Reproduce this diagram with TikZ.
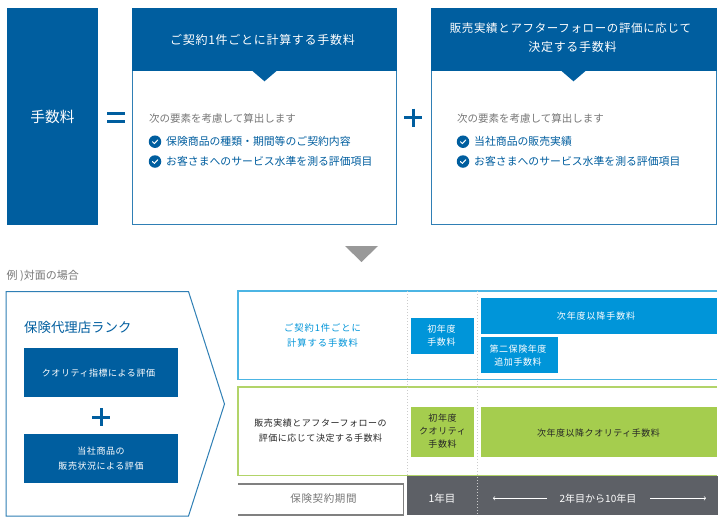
\documentclass[tikz,border=0pt]{standalone}
\usepackage{fontspec}
\setmainfont{Noto Sans CJK JP}
\newfontfamily\jpw[LetterSpace=6]{Noto Sans CJK JP}
\newfontfamily\jpx[LetterSpace=10]{Noto Sans CJK JP}
\definecolor{dblue}{HTML}{005E9F}
\definecolor{lblue}{HTML}{0095D9}
\definecolor{lgreen}{HTML}{A5CD4E}
\definecolor{slate}{HTML}{5D6066}
\definecolor{graytxt}{HTML}{777777}
\definecolor{edgeblue}{HTML}{2F7FB5}
\usetikzlibrary{calc}
\tikzset{
  solid box/.style={fill=#1,draw=none,inner sep=0pt,outer sep=0pt,align=center},
  frame box/.style={draw=#1,fill=white,line width=1pt,inner sep=0pt,outer sep=0pt},
  head txt/.style={text=white,font=\jpw\fontsize{12}{18.5}\selectfont},
  small white/.style={text=white,font=\jpw\fontsize{9}{15}\selectfont},
  tiny white/.style={text=white,font=\jpw\fontsize{9}{13}\selectfont},
  intro/.style={anchor=west,inner sep=0pt,text=graytxt,font=\fontsize{10.5}{13}\selectfont},
  item/.style={anchor=west,inner sep=0pt,text=dblue,font=\fontsize{10.85}{13}\selectfont},
  tick/.style={circle,fill=dblue,minimum size=12.5pt,inner sep=0pt},
  tickmark/.style={draw=white,line width=1pt,line cap=round,line join=round},
  opsym/.style={draw=dblue,line width=3pt},
}
\newcommand{\checkat}[3]{%
  \node[tick] (#1) at (#2,#3) {};
  \draw[tickmark] ($(#1)+(-2.6,0)$) -- ($(#1)+(-0.6,1.9)$) -- ($(#1)+(2.8,-1.8)$);
}
\begin{document}
\begin{tikzpicture}[x=1pt,y=-1pt]
\useasboundingbox (0,0) rectangle (727,525);
\fill[white] (0,0) rectangle (727,525);
% top row
\node[solid box=dblue,minimum width=91pt,minimum height=217pt,text=white,font=\fontsize{14.7}{18}\selectfont] (fee) at (52.5,116.5) {手数料};
\draw[opsym] (107,113.5) -- (125,113.5);
\draw[opsym] (107,121.2) -- (125,121.2);
% box 1
\node[frame box=edgeblue,minimum width=263.5pt,minimum height=216pt] (b1) at (264.3,116) {};
\node[solid box=dblue,minimum width=264.5pt,minimum height=63pt] (h1) at (264.3,39.5) {};
\fill[dblue] (252.5,71) -- (264.5,81.3) -- (276.5,71) -- cycle;
\node[head txt] (h1t) at (262.5,40) {ご契約1件ごとに計算する手数料};
\node[intro] (i1) at (149,118.5) {次の要素を考慮して算出します};
\checkat{c1a}{155}{141.7}
\checkat{c1b}{155}{161.5}
\node[item] (t1a) at (166,141.7) {保険商品の種類・期間等のご契約内容};
\node[item] (t1b) at (166,161) {お客さまへのサービス水準を測る評価項目};
% plus
\draw[opsym] (404,117.5) -- (422,117.5);
\draw[opsym] (413,108.5) -- (413,126.5);
% box 2
\node[frame box=edgeblue,minimum width=285.5pt,minimum height=216pt] (b2) at (574,116) {};
\node[solid box=dblue,minimum width=286.5pt,minimum height=63pt] (h2) at (574,39.5) {};
\fill[dblue] (561.5,71) -- (573.5,81.3) -- (585.5,71) -- cycle;
\node[head txt,align=center] (h2t) at (570.5,37.5) {{\fontsize{11.45}{18.5}\selectfont 販売実績とアフターフォローの評価に応じて\hspace{13pt}}\\\hspace{4pt}決定する手数料};
\node[intro] (i2) at (457,118.5) {次の要素を考慮して算出します};
\checkat{c2a}{463}{141.7}
\checkat{c2b}{463}{161.5}
\node[item] (t2a) at (474,141.7) {当社商品の販売実績};
\node[item] (t2b) at (474,161) {お客さまへのサービス水準を測る評価項目};
% down triangle
\fill[graytxt!75] (345,246) -- (378,246) -- (361.5,262) -- cycle;
% example label
\node[anchor=west,inner sep=0pt,text=graytxt,font=\fontsize{11}{13}\selectfont] (ex) at (6.5,275.5) {例 )対面の場合};
% pentagon
\draw[edgeblue,line width=1pt,fill=white] (6,291.5) -- (188.5,291.5) -- (224.5,404) -- (188.5,516) -- (6,516) -- cycle;
\node[anchor=west,inner sep=0pt,text=dblue,font=\fontsize{13.4}{16}\selectfont] (rank) at (24,327) {保険代理店ランク};
\node[solid box=dblue,minimum width=154pt,minimum height=49pt] (q) at (101,372.5) {};
\node[small white] (qt) at (98.5,373) {クオリティ指標による評価};
\draw[opsym] (92,417) -- (110,417);
\draw[opsym] (101,408) -- (101,426);
\node[solid box=dblue,minimum width=154pt,minimum height=48.5pt,small white] (s) at (101,458.5) {当社商品の\\販売状況による評価};
% right rows
\draw[lblue!70,line width=1.3pt] (717,291) -- (238,291) -- (238,379.3) -- (717,379.3);
\draw[lgreen!85!white,line width=1.3pt] (717,387) -- (238,387) -- (238,475.5) -- (717,475.5);
% bottom row
\fill[slate] (407,476) rectangle (717.5,515);
\draw[gray,line width=1.3pt] (238,484) -- (403.5,484) -- (403.5,515) -- (238,515);
\node[text=graytxt,font=\jpw\fontsize{10.5}{13}\selectfont] (p) at (323.5,498.5) {保険契約期間};
\node[text=white,font=\fontsize{10.5}{13}\selectfont] (y1) at (442,498.5) {1年目};
\node[text=white,font=\fontsize{10}{13}\selectfont] (y2) at (598,498.5) {2年目から10年目};
\coordinate (al1) at (547,498.3);
\coordinate (al2) at (493,498.3);
\coordinate (ar1) at (650,498.3);
\coordinate (ar2) at (706,498.3);
\draw[white,line width=.6pt,->] (al1) -- (al2);
\draw[white,line width=.6pt,->] (ar1) -- (ar2);
% dotted separators
\draw[gray!40,line width=1pt,dotted] (407,291) -- (407,476);
\draw[gray!40,line width=1pt,dotted] (477.3,291) -- (477.3,516);
% row 1 content
\node[text=lblue,align=center,font=\jpx\fontsize{9.3}{15}\selectfont] (r1) at (322.5,335) {ご契約1件ごとに\\計算する手数料};
\node[solid box=lblue,minimum width=63pt,minimum height=35.5pt] (f1) at (442.5,336) {};
\node[tiny white,align=center] (f1t) at (441.5,335.5) {初年度\\手数料};
\node[solid box=lblue,minimum width=236.5pt,minimum height=35.5pt] (n1) at (599.2,316) {};
\node[text=white,font=\jpx\fontsize{9}{13}\selectfont] (n1t) at (596,316.5) {次年度以降手数料};
\node[solid box=lblue,minimum width=77.5pt,minimum height=36pt] (d2) at (519.7,355) {};
\node[tiny white,align=center] (d2t) at (518,355.5) {第二保険年度\\追加手数料};
% row 2 content
\node[text=black!85,align=center,font=\jpw\fontsize{9}{15}\selectfont] (r2) at (320.5,430.5) {販売実績とアフターフォローの\\評価に応じて決定する手数料};
\node[solid box=lgreen,minimum width=63pt,minimum height=50pt] (f2) at (442.5,432) {};
\node[text=black!85,align=center,font=\jpw\fontsize{9}{13}\selectfont] (f2t) at (442.5,431) {初年度\\クオリティ\\手数料};
\node[solid box=lgreen,minimum width=236.5pt,minimum height=50pt] (n2) at (599.2,432) {};
\node[text=black!85,font=\jpw\fontsize{9}{13}\selectfont] (n2t) at (598.5,433) {次年度以降クオリティ手数料};
\end{tikzpicture}
\end{document}
